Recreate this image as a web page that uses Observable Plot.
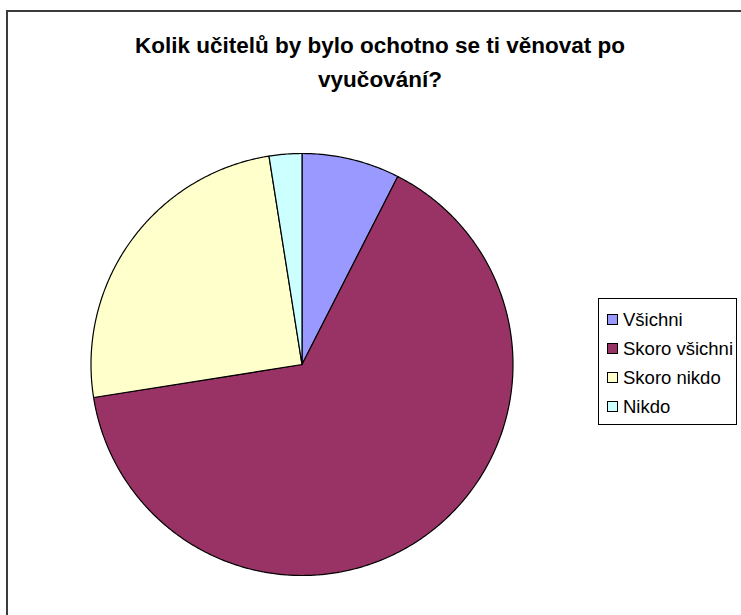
<!DOCTYPE html>
<html>
<head>
<meta charset="utf-8">
<script src="https://cdn.jsdelivr.net/npm/d3@7"></script>
<script src="https://cdn.jsdelivr.net/npm/@observablehq/plot@0.6"></script>
<style>
  html, body { margin: 0; padding: 0; background: #fff; }
  #wrap { position: relative; width: 741px; height: 615px; overflow: hidden; font-family: "Liberation Sans", Arial, sans-serif; }
  #frame { position: absolute; left: 6px; top: 10px; width: 800px; height: 700px; border-top: 2px solid #3c3c3c; border-left: 2px solid #3c3c3c; box-sizing: border-box; }
  #chart { position: absolute; left: 0; top: 0; }
  .title { position: absolute; left: 0; width: 760px; text-align: center; font-weight: bold; font-size: 22.5px; line-height: 26px; color: #000; white-space: nowrap; }
  #legend { position: absolute; left: 598px; top: 298px; width: 139px; height: 127px; border: 1px solid #000; box-sizing: border-box; background: #fff; }
  .item { position: absolute; left: 8px; font-size: 18.5px; line-height: 22px; white-space: nowrap; color: #000; }
  .sw { display: inline-block; width: 9px; height: 9px; border: 1px solid #000; margin-right: 5px; vertical-align: 1px; }
</style>
</head>
<body>
<div id="wrap">
  <div id="frame"></div>
  <div id="chart"></div>
  <div class="title" id="t1" style="top:33px;"></div>
  <div class="title" id="t2" style="top:67px;"></div>
  <div id="legend"></div>
</div>
<script>
const categories = ["Všichni", "Skoro všichni", "Skoro nikdo", "Nikdo"];
const values = [3, 26, 10, 1];
const colors = ["#9999FF", "#993366", "#FFFFCC", "#CCFFFF"];
const titleLines = ["Kolik učitelů by bylo ochotno se ti věnovat po", "vyučování?"];

const total = d3.sum(values);
const rows = [];
let start = 0;
categories.forEach((c, i) => {
  const a0 = start, a1 = start + values[i] / total * 2 * Math.PI;
  rows.push({cat: c, x: 0, y: 0});
  const n = Math.max(2, Math.ceil((a1 - a0) / (Math.PI / 360)));
  for (let k = 0; k <= n; k++) {
    const a = a0 + (a1 - a0) * k / n;
    rows.push({cat: c, x: Math.sin(a), y: Math.cos(a)});
  }
  rows.push({cat: c, x: 0, y: 0});
  start = a1;
});

const cx = 301.5, cy = 364, r = 211, W = 741, H = 615;
const plot = Plot.plot({
  width: W,
  height: H,
  marginLeft: cx - r,
  marginRight: W - (cx + r),
  marginTop: cy - r,
  marginBottom: H - (cy + r),
  x: {domain: [-1, 1], axis: null},
  y: {domain: [-1, 1], axis: null},
  color: {domain: categories, range: colors},
  marks: [
    Plot.line(rows, {x: "x", y: "y", z: "cat", fill: "cat", stroke: "#000", strokeWidth: 1.2, curve: "linear", strokeLinejoin: "round"})
  ]
});
plot.style.background = "transparent";
document.getElementById("chart").appendChild(plot);

const lg = document.getElementById("legend");
categories.forEach((c, i) => {
  const d = document.createElement("div");
  d.className = "item";
  d.style.top = (10 + i * 29) + "px";
  d.innerHTML = `<span class="sw" style="background:${colors[i]}"></span>${c}`;
  lg.appendChild(d);
});
document.getElementById("t1").textContent = titleLines[0];
document.getElementById("t2").textContent = titleLines[1];
</script>
</body>
</html>
